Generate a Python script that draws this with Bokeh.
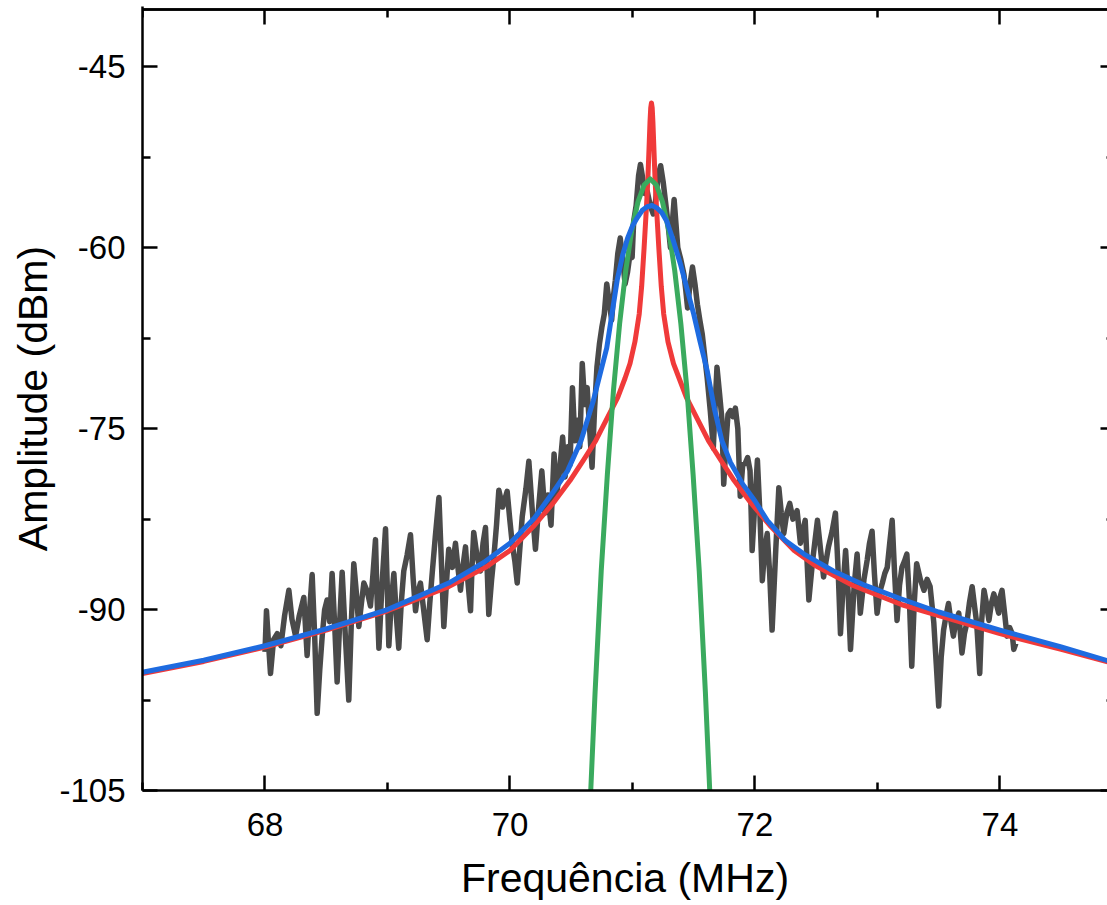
from bokeh.plotting import figure
from bokeh.models import LinearAxis, FixedTicker, Range1d, PrintfTickFormatter, Span
from bokeh.embed import file_html
from bokeh.resources import INLINE

# ---------------- data ----------------
x_major_ticks = [68, 70, 72, 74]
x_minor_ticks = [67, 69, 71, 73]
y_major_ticks = [-105, -90, -75, -60, -45]
y_minor_ticks = [-97.5, -82.5, -67.5, -52.5]

gray_x = [
    68.000, 68.012, 68.030, 68.045, 68.070, 68.100, 68.130, 68.160, 68.195, 68.220,
    68.250, 68.280, 68.317, 68.344, 68.365, 68.385, 68.405, 68.426, 68.447, 68.467,
    68.487, 68.507, 68.528, 68.548, 68.570, 68.589, 68.610, 68.630, 68.655, 68.684,
    68.705, 68.725, 68.745, 68.766, 68.787, 68.807, 68.835, 68.861, 68.882, 68.902,
    68.915, 68.930, 68.955, 68.984, 68.998, 69.011, 69.030, 69.052, 69.072, 69.092,
    69.112, 69.133, 69.160, 69.188, 69.210, 69.229, 69.250, 69.269, 69.295, 69.324,
    69.345, 69.365, 69.390, 69.420, 69.440, 69.460, 69.480, 69.500, 69.530, 69.555,
    69.575, 69.596, 69.615, 69.637, 69.655, 69.678, 69.690, 69.704, 69.730, 69.759,
    69.780, 69.800, 69.815, 69.827, 69.850, 69.868, 69.890, 69.909, 69.940, 69.977,
    69.998, 70.018, 70.040, 70.059, 70.080, 70.100, 70.130, 70.154, 70.180, 70.208,
    70.230, 70.260, 70.285, 70.310, 70.335, 70.360, 70.380, 70.405, 70.430, 70.450,
    70.470, 70.490, 70.510, 70.530, 70.550, 70.570, 70.590, 70.610, 70.630, 70.650,
    70.670, 70.690, 70.710, 70.730, 70.750, 70.770, 70.790, 70.810, 70.830, 70.845,
    70.860, 70.880, 70.900, 70.920, 70.940, 70.960, 70.980, 70.997, 71.010, 71.030,
    71.050, 71.065, 71.080, 71.100, 71.120, 71.145, 71.170, 71.190, 71.210, 71.230,
    71.250, 71.270, 71.290, 71.310, 71.325, 71.340, 71.355, 71.370, 71.395, 71.420,
    71.435, 71.450, 71.470, 71.490, 71.510, 71.530, 71.550, 71.570, 71.590, 71.610,
    71.635, 71.660, 71.675, 71.690, 71.710, 71.730, 71.745, 71.765, 71.780, 71.800,
    71.820, 71.840, 71.860, 71.880, 71.900, 71.920, 71.940, 71.960, 71.977, 72.000,
    72.020, 72.040, 72.060, 72.080, 72.100, 72.120, 72.140, 72.170, 72.195, 72.215,
    72.235, 72.260, 72.284, 72.310, 72.344, 72.371, 72.390, 72.410, 72.440, 72.470,
    72.510, 72.535, 72.560, 72.580, 72.600, 72.630, 72.657, 72.680, 72.698, 72.720,
    72.740, 72.760, 72.780, 72.810, 72.834, 72.860, 72.890, 72.916, 72.935, 72.956,
    72.975, 72.997, 73.020, 73.040, 73.060, 73.080, 73.100, 73.120, 73.140, 73.160,
    73.180, 73.200, 73.220, 73.240, 73.260, 73.280, 73.300, 73.320, 73.350, 73.380,
    73.405, 73.430, 73.460, 73.480, 73.500, 73.520, 73.540, 73.560, 73.580, 73.600,
    73.620, 73.640, 73.664, 73.690, 73.710, 73.730, 73.750, 73.773, 73.790, 73.810,
    73.835, 73.850, 73.870, 73.890, 73.910, 73.930, 73.950, 73.970, 73.990, 74.000,
    74.017, 74.040, 74.058, 74.080, 74.100, 74.113, 74.130,
]
gray_y = [
    -93.5, -90.1, -93.0, -95.3, -92.5, -92.0, -93.0, -90.5, -88.4, -90.8,
    -92.2, -90.5, -89.0, -93.8, -90.0, -87.1, -92.0, -98.6, -95.0, -92.2,
    -90.0, -89.2, -91.0, -87.0, -91.5, -96.0, -91.0, -86.9, -92.0, -97.5,
    -91.0, -86.2, -88.5, -91.4, -89.5, -87.8, -88.5, -89.7, -87.0, -84.2,
    -89.0, -93.2, -88.0, -83.3, -88.0, -93.0, -89.5, -87.0, -90.5, -93.2,
    -89.5, -86.8, -85.5, -83.8, -87.5, -90.1, -88.5, -87.8, -90.0, -92.5,
    -89.5, -87.0, -84.0, -80.7, -86.0, -91.4, -88.0, -85.0, -86.5, -84.5,
    -86.5, -88.4, -86.5, -84.8, -87.5, -90.1, -86.5, -83.6, -85.5, -86.8,
    -84.5, -83.2, -87.0, -90.4, -87.5, -85.7, -83.0, -80.1, -81.5, -80.2,
    -82.5, -84.5, -86.0, -87.8, -85.0, -82.3, -80.0, -77.7, -81.5, -85.0,
    -82.0, -78.5, -82.0, -80.5, -83.0, -77.1, -80.5, -78.5, -75.7, -79.0,
    -76.5, -78.0, -71.6, -76.0, -74.3, -76.5, -69.6, -73.0, -71.6, -75.0,
    -78.2, -73.5, -69.9, -68.0, -66.6, -65.5, -63.0, -64.5, -66.0, -64.0,
    -62.7, -60.5, -59.2, -61.0, -63.0, -62.0, -60.5, -60.8, -57.8, -56.5,
    -54.0, -53.1, -54.0, -55.5, -55.3, -56.5, -57.2, -56.0, -54.0, -53.2,
    -54.5, -56.2, -58.0, -60.0, -58.0, -56.0, -58.0, -60.0, -61.0, -62.2,
    -63.5, -65.0, -63.0, -61.6, -63.0, -64.7, -66.0, -67.2, -69.0, -70.8,
    -73.5, -76.6, -73.0, -69.9, -72.0, -74.2, -79.6, -76.0, -73.8, -73.5,
    -74.0, -73.3, -75.0, -80.6, -78.0, -77.9, -77.4, -78.5, -85.1, -81.0,
    -77.6, -82.0, -87.6, -85.0, -83.7, -87.0, -91.7, -85.0, -79.9, -82.0,
    -83.7, -82.0, -81.2, -82.5, -81.8, -84.5, -83.5, -82.6, -89.2, -86.0,
    -82.6, -85.0, -87.3, -86.0, -84.8, -83.5, -82.0, -87.0, -92.0, -88.0,
    -85.1, -88.5, -93.3, -88.0, -85.4, -90.3, -87.5, -85.9, -84.5, -83.5,
    -87.0, -90.3, -88.5, -87.8, -87.0, -86.5, -84.5, -82.6, -87.0, -90.9,
    -88.0, -86.5, -86.0, -85.4, -89.0, -94.7, -89.5, -86.2, -87.5, -88.4,
    -87.5, -88.1, -91.1, -94.5, -98.0, -94.0, -91.7, -90.5, -89.5, -91.0,
    -92.2, -91.0, -90.3, -93.6, -92.0, -91.1, -89.5, -88.1, -89.5, -91.1,
    -95.3, -91.0, -88.4, -89.5, -90.9, -89.5, -88.7, -89.5, -90.3, -89.0,
    -88.4, -90.5, -92.2, -91.5, -92.0, -93.3, -92.8,
]

red_x = [67.0, 67.5, 68.0, 68.5, 69.0, 69.5, 69.8, 70.0, 70.2, 70.35, 70.49, 70.6,
         70.7, 70.8, 70.88, 70.94, 70.98, 71.02, 71.055, 71.075, 71.095, 71.112,
         71.125, 71.135, 71.143, 71.149, 71.155, 71.161, 71.167, 71.175, 71.185,
         71.198, 71.215, 71.235, 71.255, 71.29, 71.335, 71.38, 71.44, 71.52, 71.62,
         71.72, 71.83, 71.97, 72.12, 72.32, 72.5, 72.8, 73.2, 73.5, 74.0, 74.5, 74.9]
red_y = [-95.3, -94.3, -93.1, -91.7, -90.1, -88.1, -86.5, -85.1, -83.0, -81.2, -79.3,
         -77.6, -76.0, -74.0, -72.4, -70.8, -69.6, -67.8, -65.5, -63.2, -60.0, -57.0,
         -54.5, -51.8, -49.6, -48.4, -48.0, -48.4, -49.6, -51.8, -54.5, -57.0, -60.0,
         -63.2, -65.5, -67.8, -69.6, -70.8, -72.4, -74.0, -76.0, -77.6, -79.3, -81.2,
         -83.0, -85.1, -86.4, -88.0, -89.6, -90.5, -92.0, -93.3, -94.4]

green_x = [70.645, 70.695, 70.745, 70.795, 70.845, 70.895, 70.945, 70.995, 71.045,
           71.095, 71.145, 71.195, 71.245, 71.295, 71.345, 71.395, 71.445, 71.495,
           71.545, 71.595, 71.645]
green_y = [-108.3, -96.8, -86.8, -78.8, -71.8, -66.3, -61.9, -58.5, -56.2, -54.8,
           -54.3, -54.8, -56.2, -58.5, -61.9, -66.3, -71.8, -78.8, -86.8, -96.8, -108.3]

blue_x = [67.0, 67.5, 68.0, 68.5, 69.0, 69.5, 69.8, 70.0, 70.2, 70.35, 70.47, 70.58,
          70.68, 70.74, 70.79, 70.84, 70.875, 70.92, 70.96, 71.0, 71.04, 71.08, 71.12,
          71.16, 71.2, 71.24, 71.28, 71.33, 71.39, 71.44, 71.5, 71.55, 71.61, 71.67,
          71.73, 71.8, 71.9, 72.0, 72.1, 72.25, 72.4, 72.64, 72.9, 73.19, 73.5, 74.0,
          74.5, 74.9]
blue_y = [-95.2, -94.2, -93.0, -91.6, -90.0, -87.8, -86.0, -84.5, -82.4, -80.3, -78.5,
          -76.0, -72.7, -70.3, -68.3, -65.0, -62.7, -60.6, -59.2, -58.2, -57.5, -56.9,
          -56.6, -56.5, -56.7, -57.1, -57.8, -59.3, -61.3, -63.2, -65.5, -67.7, -70.2,
          -73.4, -76.0, -77.8, -79.6, -81.0, -82.6, -84.3, -85.4, -86.8, -88.0, -89.1,
          -90.2, -91.7, -93.1, -94.3]

X_START, X_END = 67, 74.878
Y_START, Y_END = -105, -40
TOP_EDGE = Y_END - 0.25   # top spine drawn just inside the frame

# ---------------- figure ----------------
FONT = "Liberation Sans"

p = figure(width=1107, height=905, title=None,
           x_range=Range1d(X_START, X_END), y_range=Range1d(Y_START, Y_END),
           output_backend="svg", toolbar_location=None,
           min_border_left=142, min_border_right=0,
           min_border_top=6, min_border_bottom=115,
           background_fill_color="white", border_fill_color="white")
p.grid.visible = False
p.outline_line_color = None

p.line(gray_x, gray_y, line_color="#4a4a4a", line_width=5.5, line_join="round")
p.line(red_x, red_y, line_color="#f03a3a", line_width=5, line_join="round", line_cap="round")
p.line(green_x, green_y, line_color="#3aaa5e", line_width=5, line_join="round")
p.line(blue_x, blue_y, line_color="#1e6be0", line_width=5, line_join="round")


def style_axis(ax):
    ax.axis_line_color = "black"
    ax.axis_line_width = 2.5
    ax.major_tick_in = 15
    ax.major_tick_out = 0
    ax.minor_tick_in = 8
    ax.minor_tick_out = 0
    ax.major_tick_line_color = "black"
    ax.minor_tick_line_color = "black"
    ax.major_tick_line_width = 2.5
    ax.minor_tick_line_width = 2.5
    ax.major_label_text_font = FONT
    ax.major_label_text_color = "black"
    ax.axis_label_text_font = FONT
    ax.axis_label_text_font_style = "normal"
    ax.axis_label_text_color = "black"


xa = p.xaxis[0]
ya = p.yaxis[0]
xa.ticker = FixedTicker(ticks=x_major_ticks, minor_ticks=x_minor_ticks)
ya.ticker = FixedTicker(ticks=y_major_ticks, minor_ticks=y_minor_ticks)
xa.formatter = PrintfTickFormatter(format="%d")
ya.formatter = PrintfTickFormatter(format="%d")
style_axis(xa)
style_axis(ya)
xa.axis_label = "Frequência (MHz)"
ya.axis_label = "Amplitude (dBm)"
xa.major_label_text_font_size = "33px"
ya.major_label_text_font_size = "33px"
xa.axis_label_text_font_size = "41px"
ya.axis_label_text_font_size = "41px"
xa.major_label_standoff = 22
ya.major_label_standoff = 17
xa.axis_label_standoff = 16
ya.axis_label_standoff = 0

p.add_layout(Span(location=TOP_EDGE, dimension="width", line_color="black",
                  line_width=2.5, level="overlay"))

top = LinearAxis(ticker=FixedTicker(ticks=x_major_ticks, minor_ticks=x_minor_ticks),
                 fixed_location=TOP_EDGE)
right = LinearAxis(ticker=FixedTicker(ticks=y_major_ticks, minor_ticks=y_minor_ticks))
for ax in (top, right):
    style_axis(ax)
    ax.major_label_text_color = None
    ax.major_label_standoff = 0
    ax.axis_label = None
right.axis_line_color = None
right.major_tick_in = 7
right.minor_tick_in = 1
p.add_layout(top, "above")
p.add_layout(right, "right")

open("out.html", "w").write(file_html(p, INLINE))
